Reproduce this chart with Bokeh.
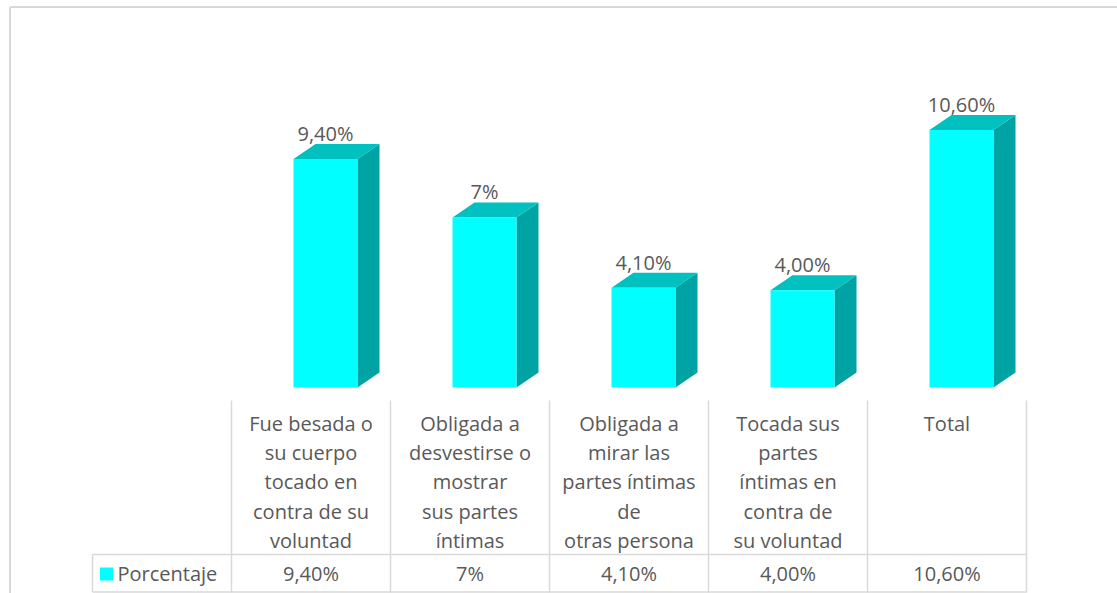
from bokeh.plotting import figure
from bokeh.models import Range1d
from bokeh.embed import file_html
from bokeh.resources import INLINE
from bokeh.core.properties import value

# ---- data ----
categories = [
    "Fue besada o\nsu cuerpo\ntocado en\ncontra de su\nvoluntad",
    "Obligada a\ndesvestirse o\nmostrar\nsus partes\níntimas",
    "Obligada a\nmirar las\npartes íntimas\nde\notras persona",
    "Tocada sus\npartes\níntimas en\ncontra de\nsu voluntad",
    "Total",
]
values = [9.4, 7.0, 4.1, 4.0, 10.6]
value_labels = ["9,40%", "7%", "4,10%", "4,00%", "10,60%"]
series_name = "Porcentaje"

# ---- layout constants (reference pixel geometry) ----
W, H = 1117, 593
PX_PER_UNIT = 24.3
BASE_Y = 387.0
COL_W = 159.0
COL0 = 310.5
FRONT_L = -17.5 / COL_W
FRONT_W = 64.0 / COL_W
DX = 22.0 / COL_W
DY = 15.0 / PX_PER_UNIT

FONT = value("Open Sans")
TXT = "#595959"
GRID = "#D9D9D9"

p = figure(
    width=W, height=H,
    x_range=Range1d((0 - COL0) / COL_W, (W - COL0) / COL_W),
    y_range=Range1d(-(H - BASE_Y) / PX_PER_UNIT, BASE_Y / PX_PER_UNIT),
    x_axis_type=None, y_axis_type=None,
    toolbar_location=None, output_backend="svg",
    min_border=0, outline_line_color=None,
)
p.grid.visible = False
p.extra_x_ranges = {"px": Range1d(0, W)}
p.extra_y_ranges = {"px": Range1d(H, 0)}

idx = list(range(len(values)))
left = [i + FRONT_L for i in idx]
right = [l + FRONT_W for l in left]

# side faces
p.patches(
    xs=[[r, r + DX, r + DX, r] for r in right],
    ys=[[0, DY, v + DY, v] for v in values],
    fill_color="#00A3A3", line_color=None,
)
# top faces
p.patches(
    xs=[[l, l + DX, r + DX, r] for l, r in zip(left, right)],
    ys=[[v, v + DY, v + DY, v] for v in values],
    fill_color="#00C0C0", line_color=None,
)
# front faces
p.quad(left=left, right=right, bottom=0, top=values,
       fill_color="#00FFFF", line_color=None)

# value labels above bars
p.text(x=[l + FRONT_W / 2 for l in left], y=[v + DY for v in values],
       text=value_labels, text_align="center", text_baseline="bottom",
       y_offset=3,
       text_font=FONT, text_font_size="20px", text_color=TXT)

# ---- data table ----
bounds = [COL0 + COL_W * (i - 0.5) for i in range(len(values) + 1)]
LEG_L = 92
p.segment(x0=bounds, x1=bounds, y0=[400] * len(bounds), y1=[592] * len(bounds),
          line_color=GRID, line_width=1.5, x_range_name="px", y_range_name="px")
p.segment(x0=[LEG_L, LEG_L, LEG_L], x1=[LEG_L, bounds[-1], bounds[-1]],
          y0=[554, 554, 591.5], y1=[591.5, 554, 591.5],
          line_color=GRID, line_width=1.5, x_range_name="px", y_range_name="px")

# category header text
hx, hy, ht = [], [], []
for i, c in enumerate(categories):
    for j, line in enumerate(c.split("\n")):
        hx.append(i)
        hy.append(423 + 29.2 * j)
        ht.append(line)
p.text(x=hx, y=hy, text=ht, y_range_name="px",
       text_align="center", text_baseline="middle",
       text_font=FONT, text_font_size="20px", text_color=TXT)

# value row
p.text(x=idx, y=[573] * len(idx), text=value_labels, y_range_name="px",
       text_align="center", text_baseline="middle",
       text_font=FONT, text_font_size="20px", text_color=TXT)

# legend key
p.scatter(x=[106], y=[573.5], size=13, marker="square", fill_color="#00FFFF",
          line_color=None, x_range_name="px", y_range_name="px")
p.text(x=[117], y=[573], text=[series_name], x_range_name="px", y_range_name="px",
       text_align="left", text_baseline="middle",
       text_font=FONT, text_font_size="20px", text_color=TXT)

# chart area border
p.segment(x0=[9.5, 9.5], x1=[9.5, W], y0=[6.5, 6.5], y1=[H, 6.5],
          line_color=GRID, line_width=2, x_range_name="px", y_range_name="px")

open("out.html", "w").write(file_html(p, INLINE))
